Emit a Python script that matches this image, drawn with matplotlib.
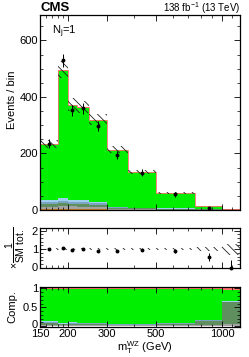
import numpy as np
import matplotlib
matplotlib.use("Agg")
import matplotlib.pyplot as plt
import matplotlib.transforms as mtransforms
from matplotlib.ticker import FixedLocator, NullFormatter, MultipleLocator

plt.rcParams['font.family'] = ['Liberation Sans', 'DejaVu Sans']
plt.rcParams['mathtext.fontset'] = 'custom'
plt.rcParams['mathtext.rm'] = 'Liberation Sans'
plt.rcParams['mathtext.it'] = 'Liberation Sans:italic'
plt.rcParams['hatch.linewidth'] = 0.6

# ---- data ----
edges = [150, 180, 200, 220, 250, 300, 375, 500, 750, 1000, 1200]
data = [235, 530, 353, 360, 296, 194, 132, 55, 8, 0]
bkg_orange = [2, 3, 3, 3, 2, 1, 0.5, 0.3, 0.1, 0.05]
bkg_gray = [8, 12, 10, 9, 8, 3, 2, 1, 0.3, 0.1]
bkg_dkgreen = [10, 11, 10, 10, 9, 4, 3, 3, 1.7, 1.75]
bkg_steel = [8, 7, 7, 6, 5, 2, 1.5, 0.7, 0.2, 0.05]
bkg_ltblue = [7, 9, 7, 7, 5, 2, 1, 0.5, 0.1, 0.05]
wz = [198.5, 451, 333.5, 327.5, 289, 200.5, 126, 55, 11.4, 0.85]
bkg_red = [1.5, 3, 2.5, 2.5, 2, 1.5, 1, 0.5, 0.2, 0.15]
rel_unc = [0.06, 0.06, 0.06, 0.06, 0.06, 0.06, 0.06, 0.06, 0.09, 0.3]
xtick_vals = [150, 200, 300, 500, 1000]
xtick_labels = ['150', '200', '300', '500', '1000']

components = [
    (bkg_orange, '#c87a1e'),
    (bkg_gray, '#a3a3a3'),
    (bkg_dkgreen, '#5f8f5f'),
    (bkg_steel, '#7aa6c4'),
    (bkg_ltblue, '#9ecfee'),
    (wz, '#00ee00'),
    (bkg_red, '#ff6f6f'),
]

edges_a = np.array(edges, float)
centers = np.sqrt(edges_a[:-1] * edges_a[1:])
data_a = np.array(data, float)
total = np.sum([np.array(c[0], float) for c in components], axis=0)
unc = total * np.array(rel_unc)

W, H = 249, 357
fig = plt.figure(figsize=(W / 100, H / 100), dpi=100)

def ax_px(x0, y0, x1, y1):
    return fig.add_axes([x0 / W, 1 - y1 / H, (x1 - x0) / W, (y1 - y0) / H])

ax = ax_px(40, 15, 240, 210)
axr = ax_px(40, 228.3, 240, 268.3)
axc = ax_px(40, 287.3, 240, 327.3)

hatch = '\\\\\\\\'

# main stack
base = np.zeros(len(total))
for vals, col in components:
    v = np.array(vals, float)
    ax.stairs(base + v, edges_a, baseline=base, fill=True, color=col, linewidth=0)
    base = base + v
ax.stairs(total, edges_a, color='#ff6f6f', linewidth=0.6)
ax.stairs(total + unc, edges_a, baseline=total - unc, fill=True, facecolor='none',
          edgecolor='#222222', hatch=hatch, linewidth=0)

yerr_lo = np.sqrt(data_a)
yerr_hi = np.where(data_a > 0, np.sqrt(data_a), 1.15)
m = data_a > 0
ax.errorbar(centers[m], data_a[m], yerr=[yerr_lo[m], yerr_hi[m]], fmt='o', ms=1.8,
            color='black', elinewidth=0.7, capsize=0)
ax.set_ylim(0, 690)

# ratio
ratio = data_a / total
r_lo = yerr_lo / total
r_hi = np.where(data_a > 0, yerr_hi / total, 0.4)
axr.stairs(1 + np.array(rel_unc), edges_a, baseline=1 - np.array(rel_unc), fill=True,
           facecolor='none', edgecolor='#222222', hatch=hatch, linewidth=0)
axr.errorbar(centers, ratio, yerr=[r_lo, r_hi], fmt='o', ms=1.8, color='black',
             elinewidth=0.7, capsize=0, clip_on=False, zorder=5)
axr.set_ylim(-0.03, 2.12)

# composition
base = np.zeros(len(total))
for vals, col in components:
    v = np.array(vals, float) / total
    axc.stairs(base + v, edges_a, baseline=base, fill=True, color=col, linewidth=0)
    base = base + v
axc.set_ylim(-0.03, 1.03)

for a in (ax, axr, axc):
    a.set_xscale('log')
    a.set_xlim(150, 1200)
    a.xaxis.set_major_locator(FixedLocator(xtick_vals))
    a.xaxis.set_minor_locator(FixedLocator([160, 170, 180, 190, 400, 600, 700, 800, 900, 1100, 1200]))
    a.xaxis.set_minor_formatter(NullFormatter())
    a.tick_params(which='both', direction='in', top=True, right=True, labelsize=8, pad=1.5)
    a.tick_params(which='major', length=4.5, width=0.6)
    a.tick_params(which='minor', length=2.5, width=0.5)
    for s in a.spines.values():
        s.set_linewidth(0.9)

ax.set_xticklabels([])
axr.set_xticklabels([])
axc.set_xticks(xtick_vals)
axc.set_xticklabels(xtick_labels)

ax.yaxis.set_major_locator(FixedLocator([0, 200, 400, 600]))
ax.yaxis.set_minor_locator(MultipleLocator(50))
axr.yaxis.set_major_locator(FixedLocator([0, 1, 2]))
axr.yaxis.set_minor_locator(MultipleLocator(0.2))
axr.set_yticklabels(['0', '1', '2'])
axc.yaxis.set_major_locator(FixedLocator([0, 0.5, 1]))
axc.yaxis.set_minor_locator(MultipleLocator(0.1))
axc.set_yticklabels(['0', '0.5', '1'])

# nudge the bottom "0" label of the comp panel upward to avoid clashing with "150"
lbl0 = axc.get_yticklabels()[0]
lbl0.set_transform(lbl0.get_transform() + mtransforms.ScaledTranslation(0, 2.5 / 100, fig.dpi_scale_trans))
lbl0r = axr.get_yticklabels()[0]
lbl0r.set_transform(lbl0r.get_transform() + mtransforms.ScaledTranslation(0, 1.0 / 100, fig.dpi_scale_trans))

# texts
fig.text(40 / W, 1 - 8 / H, 'CMS', fontsize=9.5, fontweight='bold', va='center', ha='left')
fig.text(240 / W, 1 - 8.5 / H, r'138 fb$^{-1}$ (13 TeV)', fontsize=7, va='center', ha='right')
ax.text(0.06, 0.915, r'N$_{\mathrm{j}}$=1', transform=ax.transAxes, fontsize=8,
        va='center', ha='left')
fig.text(12 / W, 1 - 100 / H, 'Events / bin', rotation=90, fontsize=8, va='center', ha='center')
fig.text(15 / W, 1 - 248 / H, r'$\times\dfrac{1}{\mathrm{SM\ tot.}}$', rotation=90,
         fontsize=7.5, va='center', ha='center')
fig.text(12 / W, 1 - 307 / H, 'Comp.', rotation=90, fontsize=8, va='center', ha='center')
fig.text(145 / W, 1 - 348 / H, r'm$_{\mathrm{T}}^{\mathrm{WZ}}$ (GeV)', fontsize=8,
         va='center', ha='center')

fig.savefig('out.png', dpi=100)
